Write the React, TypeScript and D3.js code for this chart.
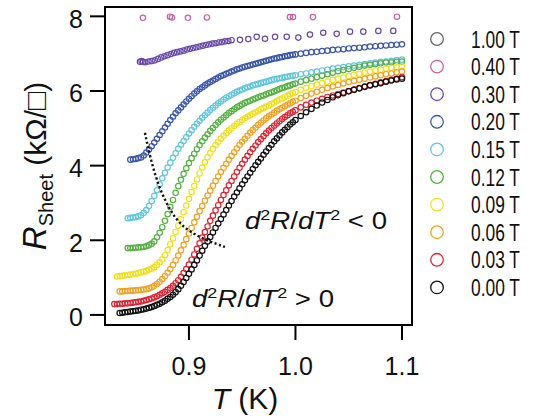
import React from 'react';
import * as d3 from 'd3';

// Temperature grid (K) shared by the dense field curves
const temps = [
  0.830, 0.8325, 0.835, 0.8375, 0.840, 0.8425, 0.845, 0.8475, 0.850, 0.8525,
  0.855, 0.8575, 0.860, 0.8625, 0.865, 0.8675, 0.870, 0.8725, 0.875, 0.8775,
  0.880, 0.8825, 0.885, 0.8875, 0.890, 0.8925, 0.895, 0.8975, 0.900, 0.9025,
  0.905, 0.9075, 0.910, 0.9125, 0.915, 0.9175, 0.920, 0.9225, 0.925, 0.9275,
  0.930, 0.9325, 0.935, 0.9375, 0.940, 0.9425, 0.945, 0.9475, 0.950, 0.9525,
  0.955, 0.9575, 0.960, 0.9625, 0.965, 0.9675, 0.970, 0.9725, 0.975, 0.9775,
  0.980, 0.9825, 0.985, 0.9875, 0.990, 0.9925, 0.995, 0.9975, 1.000,
  1.005, 1.010, 1.015, 1.020, 1.025, 1.030, 1.035, 1.040, 1.045, 1.050,
  1.055, 1.060, 1.065, 1.070, 1.075, 1.080, 1.085, 1.090, 1.095, 1.100,
];

// R_sheet (kOhm/sq) for each field on the grid above (null = not measured)
const r000 = [
  null, null, 0.05, 0.06, 0.07, 0.08, 0.09, 0.10, 0.11, 0.12,
  0.14, 0.15, 0.17, 0.19, 0.21, 0.24, 0.27, 0.30, 0.34, 0.38,
  0.43, 0.48, 0.54, 0.61, 0.69, 0.78, 0.88, 0.99, 1.10, 1.22,
  1.34, 1.46, 1.59, 1.72, 1.85, 1.97, 2.09, 2.21, 2.33, 2.45,
  2.57, 2.69, 2.81, 2.93, 3.05, 3.17, 3.28, 3.39, 3.50, 3.61,
  3.71, 3.81, 3.91, 4.01, 4.10, 4.19, 4.29, 4.38, 4.47, 4.56,
  4.65, 4.73, 4.81, 4.89, 4.96, 5.03, 5.10, 5.16, 5.22,
  5.33, 5.43, 5.52, 5.61, 5.69, 5.76, 5.83, 5.89, 5.94, 5.99,
  6.03, 6.07, 6.11, 6.15, 6.18, 6.21, 6.25, 6.28, 6.31, 6.33,
];
const r003 = [
  0.29, 0.29, 0.30, 0.30, 0.31, 0.31, 0.32, 0.33, 0.34, 0.35,
  0.36, 0.38, 0.40, 0.42, 0.44, 0.47, 0.50, 0.54, 0.58, 0.62,
  0.67, 0.72, 0.78, 0.85, 0.93, 1.02, 1.12, 1.23, 1.35, 1.48,
  1.62, 1.77, 1.92, 2.07, 2.22, 2.37, 2.52, 2.66, 2.80, 2.94,
  3.08, 3.21, 3.34, 3.47, 3.59, 3.71, 3.83, 3.94, 4.05, 4.16,
  4.26, 4.36, 4.45, 4.54, 4.63, 4.71, 4.79, 4.87, 4.94, 5.01,
  5.07, 5.13, 5.19, 5.25, 5.30, 5.35, 5.40, 5.44, 5.48,
  5.56, 5.63, 5.69, 5.74, 5.79, 5.84, 5.88, 5.92, 5.96, 6.00,
  6.04, 6.08, 6.12, 6.16, 6.19, 6.23, 6.26, 6.30, 6.33, 6.37,
];
const r006 = [
  null, null, 0.63, 0.63, 0.64, 0.64, 0.65, 0.65, 0.66, 0.66,
  0.67, 0.68, 0.69, 0.71, 0.74, 0.78, 0.83, 0.89, 0.96, 1.04,
  1.13, 1.23, 1.34, 1.46, 1.59, 1.73, 1.88, 2.03, 2.18, 2.33,
  2.48, 2.63, 2.78, 2.92, 3.06, 3.20, 3.33, 3.46, 3.59, 3.71,
  3.83, 3.94, 4.05, 4.16, 4.26, 4.36, 4.46, 4.55, 4.64, 4.72,
  4.80, 4.88, 4.95, 5.02, 5.09, 5.15, 5.21, 5.27, 5.32, 5.37,
  5.42, 5.47, 5.51, 5.55, 5.59, 5.63, 5.67, 5.71, 5.74,
  5.81, 5.87, 5.93, 5.98, 6.03, 6.08, 6.12, 6.16, 6.20, 6.24,
  6.27, 6.30, 6.33, 6.36, 6.39, 6.42, 6.45, 6.47, 6.50, 6.52,
];
const r009 = [
  null, 1.03, 1.04, 1.05, 1.06, 1.07, 1.08, 1.09, 1.10, 1.12,
  1.14, 1.16, 1.18, 1.21, 1.24, 1.28, 1.34, 1.41, 1.49, 1.60,
  1.74, 1.89, 2.05, 2.22, 2.39, 2.57, 2.75, 2.93, 3.11, 3.29,
  3.46, 3.63, 3.79, 3.95, 4.09, 4.22, 4.34, 4.45, 4.55, 4.64,
  4.72, 4.80, 4.87, 4.94, 5.00, 5.06, 5.12, 5.17, 5.22, 5.27,
  5.31, 5.35, 5.39, 5.43, 5.47, 5.51, 5.54, 5.58, 5.61, 5.65,
  5.69, 5.73, 5.77, 5.80, 5.84, 5.87, 5.91, 5.94, 5.97,
  6.03, 6.08, 6.13, 6.17, 6.21, 6.25, 6.29, 6.33, 6.36, 6.40,
  6.43, 6.46, 6.49, 6.52, 6.55, 6.57, 6.60, 6.62, 6.64, 6.66,
];
const r012 = [
  null, null, null, null, null, 1.79, 1.79, 1.80, 1.80, 1.81,
  1.81, 1.82, 1.84, 1.87, 1.91, 1.97, 2.08, 2.20, 2.35, 2.52,
  2.70, 2.89, 3.08, 3.27, 3.45, 3.62, 3.78, 3.93, 4.07, 4.20,
  4.32, 4.44, 4.55, 4.65, 4.75, 4.84, 4.93, 5.01, 5.09, 5.16,
  5.23, 5.29, 5.35, 5.41, 5.46, 5.51, 5.56, 5.60, 5.64, 5.68,
  5.71, 5.74, 5.77, 5.80, 5.83, 5.86, 5.88, 5.91, 5.94, 5.96,
  5.99, 6.02, 6.05, 6.08, 6.10, 6.13, 6.15, 6.18, 6.20,
  6.25, 6.29, 6.33, 6.37, 6.41, 6.45, 6.49, 6.53, 6.56, 6.59,
  6.62, 6.65, 6.68, 6.70, 6.72, 6.74, 6.76, 6.77, 6.78, 6.79,
];
const r015 = [
  null, null, null, null, null, 2.59, 2.60, 2.61, 2.62, 2.64,
  2.67, 2.73, 2.81, 2.92, 3.05, 3.19, 3.34, 3.50, 3.66, 3.81,
  3.95, 4.08, 4.21, 4.33, 4.45, 4.56, 4.66, 4.76, 4.86, 4.95,
  5.04, 5.12, 5.20, 5.28, 5.35, 5.42, 5.49, 5.55, 5.61, 5.67,
  5.72, 5.77, 5.82, 5.86, 5.90, 5.94, 5.98, 6.01, 6.04, 6.07,
  6.10, 6.12, 6.15, 6.17, 6.19, 6.21, 6.23, 6.25, 6.27, 6.29,
  6.31, 6.32, 6.34, 6.35, 6.37, 6.38, 6.40, 6.41, 6.42,
  6.45, 6.47, 6.50, 6.52, 6.55, 6.57, 6.60, 6.62, 6.64, 6.66,
  6.68, 6.70, 6.72, 6.74, 6.76, 6.78, 6.79, 6.81, 6.83, 6.84,
];
const r020 = [
  null, null, null, null, null, null, 4.16, 4.17, 4.18, 4.20,
  4.22, 4.27, 4.35, 4.43, 4.52, 4.62, 4.72, 4.82, 4.92, 5.02,
  5.12, 5.22, 5.31, 5.40, 5.48, 5.56, 5.64, 5.72, 5.79, 5.86,
  5.93, 5.99, 6.05, 6.10, 6.15, 6.20, 6.24, 6.28, 6.32, 6.36,
  6.40, 6.43, 6.46, 6.49, 6.52, 6.55, 6.58, 6.60, 6.63, 6.65,
  6.67, 6.69, 6.71, 6.73, 6.75, 6.77, 6.79, 6.81, 6.83, 6.85,
  6.87, 6.88, 6.90, 6.91, 6.93, 6.94, 6.96, 6.97, 6.98,
  7.00, 7.02, 7.04, 7.05, 7.07, 7.08, 7.10, 7.11, 7.12, 7.14,
  7.15, 7.16, 7.17, 7.19, 7.20, 7.21, 7.22, 7.23, 7.24, 7.25,
];

// 0.30 T: own temperature list (dense at low T, sparse above ~0.945 K)
const t030 = [
  0.854, 0.8555, 0.857, 0.859, 0.862, 0.865, 0.868, 0.871, 0.874, 0.877,
  0.880, 0.883, 0.886, 0.889, 0.892, 0.895, 0.898, 0.901, 0.904, 0.907,
  0.910, 0.913, 0.916, 0.919, 0.922, 0.925, 0.928, 0.931, 0.934, 0.937,
  0.940, 0.9479, 0.9557, 0.9636, 0.9714, 0.9808, 0.9918, 1.0027, 1.0136, 1.0261,
  1.0387, 1.0512, 1.0637, 1.0778, 1.0918,
];
const r030 = [
  6.78, 6.80, 6.78, 6.77, 6.79, 6.80, 6.82, 6.86, 6.90, 6.93,
  6.96, 6.99, 7.02, 7.04, 7.06, 7.08, 7.11, 7.13, 7.15, 7.17,
  7.19, 7.21, 7.23, 7.25, 7.27, 7.28, 7.30, 7.31, 7.33, 7.34,
  7.36, 7.37, 7.39, 7.45, 7.40, 7.45, 7.45, 7.43, 7.51, 7.56,
  7.53, 7.59, 7.59, 7.61, 7.61,
];

// 0.40 T: sparse points near the top of the axis
const t040 = [0.8568, 0.8822, 0.884, 0.899, 0.9169, 0.9948, 0.9977, 1.0164, 1.0953];
const r040 = [7.96, 7.99, 7.97, 7.96, 7.97, 7.98, 7.98, 7.98, 7.99];

// 1.00 T: off scale (no points inside the plotted range)
const t100: number[] = [];
const r100: number[] = [];

// dotted guide through the inflection points
const inflT = [0.8587, 0.8634, 0.8709, 0.8803, 0.8915, 0.9103, 0.9338];
const inflR = [4.88, 4.24, 3.49, 2.90, 2.41, 2.06, 1.82];

const fieldLabels = ['1.00 T', '0.40 T', '0.30 T', '0.20 T', '0.15 T', '0.12 T', '0.09 T', '0.06 T', '0.03 T', '0.00 T'];
const fieldColors = ['#666666', '#cc5fa6', '#6a4aa8', '#3a56ac', '#62c6dc', '#56b043', '#f0e020', '#f0a224', '#dc2434', '#111111'];

const xTicks = [0.9, 1.0, 1.1];
const yTicks = [0, 2, 4, 6, 8];

const FONT = "'Liberation Sans', Arial, Helvetica, sans-serif";

export default function App() {
  const W = 543, H = 419;
  const left = 105, right = 412, top = 7, bottom = 325;
  const x = d3.scaleLinear().domain([0.8212, 1.1094]).range([left, right]);
  const y = d3.scaleLinear().domain([-0.27, 8.25]).range([bottom, top]);

  const seriesT = [t100, t040, t030, temps, temps, temps, temps, temps, temps, temps];
  const seriesR = [r100, r040, r030, r020, r015, r012, r009, r006, r003, r000];

  const series = fieldLabels.map((label, i) => ({
    label,
    color: fieldColors[i],
    pts: seriesT[i]
      .map((t, j) => ({ t, r: seriesR[i][j] as number | null }))
      .filter((p) => p.r !== null && p.r !== undefined),
  }));

  const inflPts = inflT.map((t, i) => [t, inflR[i]] as [number, number]);
  const inflLine = d3
    .line<[number, number]>()
    .x((d) => x(d[0]))
    .y((d) => y(d[1]))
    .curve(d3.curveBasis)(inflPts);

  const supSize = 15;

  return (
    <svg
      width={W}
      height={H}
      style={{ position: 'absolute', left: 0, top: 0, background: '#fff' }}
      fontFamily={FONT}
    >
      <rect x={0} y={0} width={W} height={H} fill="#fff" />

      {/* data markers */}
      {series.map((s, i) => (
        <g key={i} fill="none" stroke={s.color} strokeWidth={1.2}>
          {s.pts.map((p, j) => (
            <circle key={j} cx={x(p.t)} cy={y(p.r as number)} r={2.7} />
          ))}
        </g>
      ))}

      {/* inflection dotted line */}
      <path d={inflLine || ''} fill="none" stroke="#111" strokeWidth={2.4} strokeDasharray="2.2 2.4" />

      {/* frame */}
      <rect x={left} y={top} width={right - left} height={bottom - top} fill="none" stroke="#000" strokeWidth={2} />

      {/* y axis ticks */}
      {yTicks.map((v) => (
        <g key={v}>
          <line x1={left - 15} x2={left} y1={y(v)} y2={y(v)} stroke="#000" strokeWidth={2} />
          <text x={83} y={y(v) + 11.5} textAnchor="end" fontSize={25} fill="#111">
            {v}
          </text>
        </g>
      ))}

      {/* x axis ticks */}
      {xTicks.map((v) => (
        <g key={v}>
          <line x1={x(v)} x2={x(v)} y1={bottom} y2={bottom + 15} stroke="#000" strokeWidth={2} />
          <text x={x(v)} y={375} textAnchor="middle" fontSize={25} fill="#111">
            {d3.format('.1f')(v)}
          </text>
        </g>
      ))}

      {/* axis titles */}
      <text x={245} y={409} textAnchor="middle" fontSize={30} fill="#111">
        <tspan fontStyle="italic">T</tspan>
        <tspan> (K)</tspan>
      </text>
      <text transform="translate(46,166) rotate(-90)" textAnchor="middle" fontSize={30} fill="#111">
        <tspan fontStyle="italic" fontSize={33}>R</tspan>
        <tspan fontSize={20} dy={7}>Sheet</tspan>
        <tspan dy={-7}> (kΩ/□)</tspan>
      </text>

      {/* annotations */}
      <text x={245} y={229} fontSize={23} fill="#111" textLength={142} lengthAdjust="spacingAndGlyphs">
        <tspan fontStyle="italic">d</tspan>
        <tspan fontSize={supSize} dy={-9}>2</tspan>
        <tspan fontStyle="italic" dy={9}>R</tspan>
        <tspan>/</tspan>
        <tspan fontStyle="italic">dT</tspan>
        <tspan fontSize={supSize} dy={-9}>2</tspan>
        <tspan dy={9}> &lt; 0</tspan>
      </text>
      <text x={192} y={307} fontSize={23} fill="#111" textLength={142} lengthAdjust="spacingAndGlyphs">
        <tspan fontStyle="italic">d</tspan>
        <tspan fontSize={supSize} dy={-9}>2</tspan>
        <tspan fontStyle="italic" dy={9}>R</tspan>
        <tspan>/</tspan>
        <tspan fontStyle="italic">dT</tspan>
        <tspan fontSize={supSize} dy={-9}>2</tspan>
        <tspan dy={9}> &gt; 0</tspan>
      </text>

      {/* legend */}
      {series.map((s, i) => {
        const cy = 39 + i * 27.6;
        return (
          <g key={'lg' + i}>
            <circle cx={437} cy={cy} r={6.3} fill="none" stroke={s.color} strokeWidth={1.3} />
            <text x={471} y={cy + 8.5} fontSize={24} fill="#111" textLength={49} lengthAdjust="spacingAndGlyphs">
              {s.label}
            </text>
          </g>
        );
      })}
    </svg>
  );
}
